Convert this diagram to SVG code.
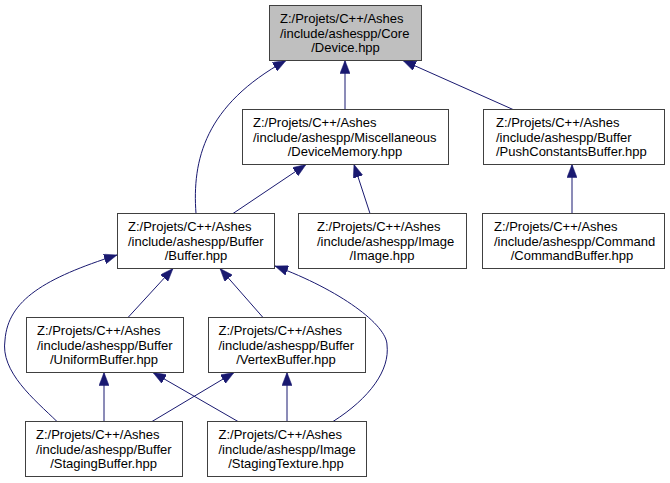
<svg xmlns="http://www.w3.org/2000/svg" width="670" height="483" viewBox="0 0 670 483">
<style>
.box{fill:#ffffff;stroke:#404040;stroke-width:1}
.root{fill:#bfbfbf;stroke:#404040;stroke-width:1}
text{font-family:"Liberation Sans",Arial,sans-serif;font-size:13px;fill:#000000}
.c{text-anchor:middle}
.e{fill:none;stroke:#191970;stroke-width:1;marker-end:url(#ah)}
</style>
<defs>
<marker id="ah" markerUnits="userSpaceOnUse" viewBox="0 0 13 10" markerWidth="13" markerHeight="10" refX="13" refY="5" orient="auto">
<path d="M0,0 L13,5 L0,10 Z" fill="#191970" stroke="#191970" stroke-width="0.5"/>
</marker>
</defs>
<rect width="670" height="483" fill="#ffffff"/>
<g id="edges">
<path class="e" d="M196,213.5 C192,160 205,105 286,60.5"/>
<path class="e" d="M345,109.5 L345,60.5"/>
<path class="e" d="M513,109.5 L403,60.5"/>
<path class="e" d="M233,213.5 L306,164.5"/>
<path class="e" d="M370,213.5 L354,164.5"/>
<path class="e" d="M572,213.5 L572,164.5"/>
<path class="e" d="M128,317.5 L173,268.5"/>
<path class="e" d="M263,317.5 L220,268.5"/>
<path class="e" d="M57,421.5 C35,400 0,372 5,340 C8,300 45,278 117,255"/>
<path class="e" d="M333,421.5 C370,398 390,370 387,345 C387,325 340,290 275,266"/>
<path class="e" d="M104,421.5 L104,372.5"/>
<path class="e" d="M152,421.5 L234,372.5"/>
<path class="e" d="M238,421.5 L153,372.5"/>
<path class="e" d="M287,421.5 L287,372.5"/>
</g>
<g id="device">
<rect class="root" x="269.5" y="5.5" width="152" height="55"/>
<text x="280" y="23">Z:/Projets/C++/Ashes</text>
<text x="280" y="37.5">/include/ashespp/Core</text>
<text class="c" x="345.5" y="52">/Device.hpp</text>
</g>
<g id="devicememory">
<rect class="box" x="242.5" y="109.5" width="206" height="55"/>
<text x="253" y="127">Z:/Projets/C++/Ashes</text>
<text x="253" y="141.5">/include/ashespp/Miscellaneous</text>
<text class="c" x="345" y="156">/DeviceMemory.hpp</text>
</g>
<g id="pushconstantsbuffer">
<rect class="box" x="483.5" y="109.5" width="181" height="55"/>
<text x="496" y="127">Z:/Projets/C++/Ashes</text>
<text x="496" y="141.5">/include/ashespp/Buffer</text>
<text x="496" y="156">/PushConstantsBuffer.hpp</text>
</g>
<g id="buffer">
<rect class="box" x="117.5" y="213.5" width="157" height="55"/>
<text x="128" y="231">Z:/Projets/C++/Ashes</text>
<text x="128" y="245.5">/include/ashespp/Buffer</text>
<text class="c" x="196" y="260">/Buffer.hpp</text>
</g>
<g id="image">
<rect class="box" x="298.5" y="213.5" width="168" height="55"/>
<text x="317" y="231">Z:/Projets/C++/Ashes</text>
<text x="317" y="245.5">/include/ashespp/Image</text>
<text class="c" x="382" y="260">/Image.hpp</text>
</g>
<g id="commandbuffer">
<rect class="box" x="482.5" y="213.5" width="182" height="55"/>
<text x="494" y="231">Z:/Projets/C++/Ashes</text>
<text x="494" y="245.5">/include/ashespp/Command</text>
<text class="c" x="572" y="260">/CommandBuffer.hpp</text>
</g>
<g id="uniformbuffer">
<rect class="box" x="26.5" y="317.5" width="157" height="55"/>
<text x="37" y="335">Z:/Projets/C++/Ashes</text>
<text x="37" y="349.5">/include/ashespp/Buffer</text>
<text class="c" x="104" y="364">/UniformBuffer.hpp</text>
</g>
<g id="vertexbuffer">
<rect class="box" x="208.5" y="317.5" width="157" height="55"/>
<text x="218.5" y="335">Z:/Projets/C++/Ashes</text>
<text x="218.5" y="349.5">/include/ashespp/Buffer</text>
<text class="c" x="286" y="364">/VertexBuffer.hpp</text>
</g>
<g id="stagingbuffer">
<rect class="box" x="25.5" y="421.5" width="157" height="55"/>
<text x="36" y="439">Z:/Projets/C++/Ashes</text>
<text x="36" y="453.5">/include/ashespp/Buffer</text>
<text class="c" x="103.5" y="468">/StagingBuffer.hpp</text>
</g>
<g id="stagingtexture">
<rect class="box" x="207.5" y="421.5" width="159" height="55"/>
<text x="218.5" y="439">Z:/Projets/C++/Ashes</text>
<text x="218.5" y="453.5">/include/ashespp/Image</text>
<text class="c" x="286" y="468">/StagingTexture.hpp</text>
</g>
</svg>
